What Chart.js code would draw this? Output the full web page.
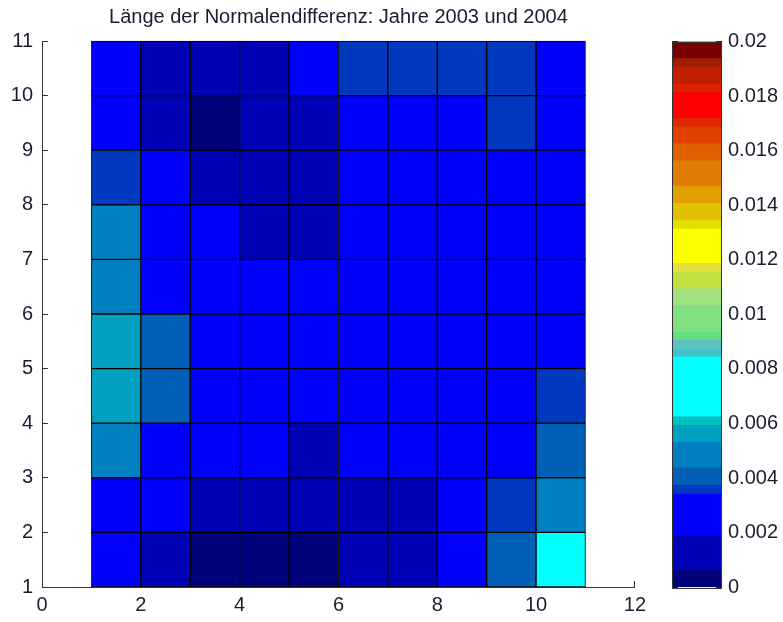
<!DOCTYPE html>
<html>
<head>
<meta charset="utf-8">
<script src="https://cdn.jsdelivr.net/npm/chart.js@4.4.1/dist/chart.umd.min.js"></script>
<style>
	body { margin: 0; background: #fff; }
	#contenedor { position: relative; width: 783px; height: 622px; }
	#grafica { position: absolute; left: 0; top: 0; }
	#barra { position: absolute; left: 655px; top: 0; }
</style>
</head>
<body>
<div id="contenedor">
	<canvas id="grafica" width="658" height="622"></canvas>
	<canvas id="barra" width="128" height="622"></canvas>
</div>
<script>
const titulo = 'Länge der Normalendifferenz: Jahre 2003 und 2004';

// celdas: columna x (borde izquierdo) y fila y (borde inferior)
const columnas = [1, 2, 3, 4, 5, 6, 7, 8, 9, 10];
const filas = [1, 2, 3, 4, 5, 6, 7, 8, 9, 10];

// valores, fila y=1 abajo hasta y=10 arriba
const fila1 = [0.0026, 0.0012, 0.0004, 0.0003, 0.0004, 0.0013, 0.0012, 0.0027, 0.0041, 0.0075];
const fila2 = [0.0025, 0.0027, 0.0014, 0.0012, 0.0013, 0.0012, 0.0014, 0.0026, 0.0036, 0.0049];
const fila3 = [0.0048, 0.0026, 0.0025, 0.0024, 0.0015, 0.0025, 0.0026, 0.0025, 0.0026, 0.0041];
const fila4 = [0.0057, 0.0041, 0.0024, 0.0025, 0.0025, 0.0024, 0.0023, 0.0025, 0.0026, 0.0036];
const fila5 = [0.0057, 0.0040, 0.0025, 0.0024, 0.0023, 0.0024, 0.0023, 0.0024, 0.0025, 0.0027];
const fila6 = [0.0048, 0.0026, 0.0024, 0.0023, 0.0023, 0.0023, 0.0022, 0.0023, 0.0024, 0.0026];
const fila7 = [0.0049, 0.0025, 0.0023, 0.0015, 0.0014, 0.0023, 0.0023, 0.0024, 0.0025, 0.0026];
const fila8 = [0.0036, 0.0025, 0.0014, 0.0013, 0.0012, 0.0023, 0.0024, 0.0024, 0.0025, 0.0026];
const fila9 = [0.0027, 0.0013, 0.0004, 0.0014, 0.0013, 0.0024, 0.0025, 0.0026, 0.0036, 0.0027];
const fila10 = [0.0026, 0.0013, 0.0014, 0.0013, 0.0027, 0.0036, 0.0036, 0.0035, 0.0036, 0.0027];
const valores = [fila1, fila2, fila3, fila4, fila5, fila6, fila7, fila8, fila9, fila10];

// barra de colores (limites de cada franja y su color)
const limitesBarra = [0, 0.000625, 0.001875, 0.0034375, 0.00375, 0.004375, 0.0053125, 0.0059375, 0.00625,
	0.0084375, 0.00875, 0.0090625, 0.009375, 0.0103125, 0.0109375, 0.0115625, 0.011875, 0.013125,
	0.0134375, 0.0140625, 0.0146875, 0.015625, 0.01625, 0.016875, 0.0171875, 0.018125, 0.0184375,
	0.0190625, 0.019375, 0.02];
const coloresBarra = ['#00007a', '#0000b4', '#0000ff', '#0038c0', '#0060b8', '#0080c0', '#00a0c0', '#00c0c0',
	'#00ffff', '#40c0c8', '#60c0c0', '#60e080', '#80e080', '#a0e080', '#c0e040', '#e0e040', '#ffff00',
	'#e0e000', '#e0c000', '#e0a000', '#e07c00', '#e06000', '#e04000', '#e02800', '#ff0000', '#e02000',
	'#c02000', '#a01c00', '#7a0000'];

const ticksX = [0, 2, 4, 6, 8, 10, 12];
const ticksY = [1, 2, 3, 4, 5, 6, 7, 8, 9, 10, 11];
const ticksBarra = [0, 0.002, 0.004, 0.006, 0.008, 0.01, 0.012, 0.014, 0.016, 0.018, 0.02];

Chart.defaults.font.family = '"Liberation Sans", Arial, sans-serif';
Chart.defaults.font.size = 20;
Chart.defaults.color = '#1c1c30';

(()=>{
	window.addEventListener('load', iniciar);
})();

function iniciar() {
	crearMapa();
	crearBarra();
}

function colorPara(v) {
	for (var i = 0; i < coloresBarra.length; i++) {
		if (v < limitesBarra[i + 1]) return coloresBarra[i];
	}
	return coloresBarra[coloresBarra.length - 1];
}

function fijarTicks(lista) {
	return function(scale) {
		scale.ticks = lista.map(v => ({ value: v }));
	};
}

function crearMapa() {
	var datasets = filas.map((y, i) => ({
		data: columnas.map(x => ({ x: x + 0.5, y: [y, y + 1] })),
		backgroundColor: valores[i].map(colorPara),
		borderColor: '#000',
		borderWidth: 1,
		borderSkipped: false,
		grouped: false,
		clip: false,
		barPercentage: 1,
		categoryPercentage: 1
	}));
	var ctx = document.getElementById('grafica').getContext('2d');
	new Chart(ctx, {
		type: 'bar',
		data: { datasets: datasets },
		options: {
			responsive: false,
			animation: false,
			devicePixelRatio: 1,
			layout: { padding: { right: 15 } },
			plugins: {
				legend: { display: false },
				tooltip: { enabled: false },
				title: {
					display: true,
					fullSize: false,
					text: titulo,
					font: { size: 20, weight: 'normal' },
					padding: { top: 5, bottom: 12 }
				}
			},
			scales: {
				x: {
					type: 'linear',
					min: 0,
					max: 12,
					offset: false,
					afterBuildTicks: fijarTicks(ticksX),
					afterFit: s => { s.height = 35; },
					grid: { offset: false, drawOnChartArea: false, tickLength: -6, color: '#333' },
					border: { color: '#333' },
					ticks: { padding: 12, maxRotation: 0 }
				},
				y: {
					type: 'linear',
					min: 1,
					max: 11,
					afterBuildTicks: fijarTicks(ticksY),
					afterFit: s => { s.width = 42; },
					grid: { drawOnChartArea: false, tickLength: -6, color: '#333' },
					border: { color: '#333' },
					ticks: { padding: 15 }
				}
			}
		}
	});
}

function crearBarra() {
	var datasets = coloresBarra.map((c, i) => ({
		data: [[limitesBarra[i], limitesBarra[i + 1]]],
		backgroundColor: c,
		borderWidth: 0,
		grouped: false,
		barPercentage: 1,
		categoryPercentage: 1
	}));
	var marco = {
		id: 'marco',
		afterDatasetsDraw(chart) {
			var a = chart.chartArea;
			var ctx = chart.ctx;
			ctx.save();
			ctx.strokeStyle = '#333';
			ctx.lineWidth = 1;
			ctx.strokeRect(Math.round(a.left) + 0.5, Math.round(a.top) + 0.5,
				Math.round(a.right - a.left) - 1, Math.round(a.bottom - a.top));
			ctx.restore();
		}
	};
	var ctx = document.getElementById('barra').getContext('2d');
	new Chart(ctx, {
		type: 'bar',
		data: { labels: [''], datasets: datasets },
		plugins: [marco],
		options: {
			responsive: false,
			animation: false,
			devicePixelRatio: 1,
			layout: { padding: { top: 41.5, bottom: 34.7, left: 17, right: 0 } },
			plugins: {
				legend: { display: false },
				tooltip: { enabled: false }
			},
			scales: {
				x: { display: false },
				y: {
					position: 'right',
					min: 0,
					max: 0.02,
					afterBuildTicks: fijarTicks(ticksBarra),
					afterFit: s => { s.width = 61; },
					grid: { drawOnChartArea: false, tickLength: -6, color: '#222' },
					border: { display: false },
					ticks: {
						padding: 12,
						callback: v => String(+v.toFixed(4))
					}
				},
				yIzq: {
					position: 'left',
					min: 0,
					max: 0.02,
					afterBuildTicks: fijarTicks(ticksBarra),
					afterFit: s => { s.width = 0; },
					grid: { drawOnChartArea: false, tickLength: -6, color: '#222' },
					border: { display: false },
					ticks: { display: false }
				}
			}
		}
	});
}
</script>
</body>
</html>
